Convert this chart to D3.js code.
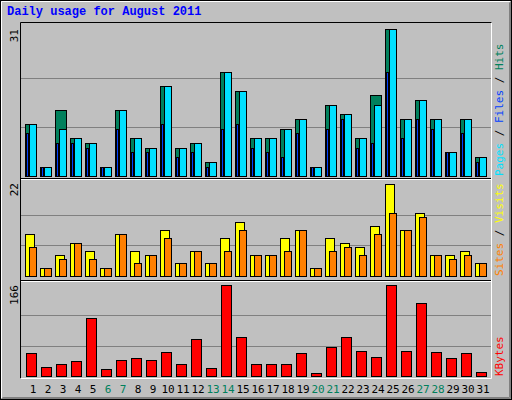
<!DOCTYPE html>
<html><head><meta charset="utf-8">
<script src="https://cdn.jsdelivr.net/npm/d3@7"></script>
<style>body{margin:0;background:#fff}</style>
</head><body><div id="chart"></div>
<script>
var days = d3.range(1, 32);
var weekend = [6, 7, 13, 14, 20, 21, 27, 28];
var hits  = [11,2,14,8,7,2,14,8,6,19,6,7,3,22,18,8,8,10,12,2,15,13,8,17,31,12,16,12,5,12,4];
var pages = [11,2,10,8,7,2,14,8,6,19,6,7,3,22,18,8,8,10,12,2,15,13,8,15,31,12,16,12,5,12,4];
var files = [9,2,7,7,6,2,10,5,5,11,4,5,2,10,11,6,5,4,9,2,10,12,6,7,22,8,12,10,5,9,3];
var visits = [10,2,5,8,6,2,10,6,5,11,3,6,3,9,13,5,5,9,11,2,9,8,7,12,22,11,15,5,5,6,3];
var sites  = [7,2,4,8,4,2,10,3,5,9,3,6,3,6,11,5,5,6,11,2,6,7,5,10,15,11,14,5,4,5,3];
var kbytes = [42,17,22,28,106,12,30,33,30,44,22,68,15,166,72,21,22,21,42,6,52,72,46,35,166,46,133,44,33,42,8];

var svg = d3.select("#chart").append("svg").attr("width", 512).attr("height", 400)
  .style("font-family", "DejaVu Sans Mono, monospace");

svg.append("rect").attr("x", 0).attr("y", 0).attr("width", 512).attr("height", 400).attr("fill", "#c0c0c0");
svg.append("path").attr("d", "M1.5,398.5V1.5H510.5").attr("stroke", "#fff").attr("fill", "none");
svg.append("path").attr("d", "M1.5,398.5H510.5V1.5").attr("stroke", "#808080").attr("fill", "none");
svg.append("path").attr("d", "M2.5,397.5H509.5V2.5").attr("stroke", "#808080").attr("fill", "none");
svg.append("rect").attr("x", 0.5).attr("y", 0.5).attr("width", 511).attr("height", 399).attr("fill", "none").attr("stroke", "#000");

svg.append("text").attr("x", 7).attr("y", 15).text("Daily usage for August 2011")
  .attr("fill", "#0000ff").attr("font-weight", "bold").attr("font-size", 12)
  .attr("font-family", "Liberation Mono, monospace");

var x = d3.scaleBand().domain(days).range([25, 490]).padding(0);

var panels = [
  { top: 24, bottom: 178, y: d3.scaleLinear().domain([0, 31]).range([176, 29]), max: 31 },
  { top: 178, bottom: 280, y: d3.scaleLinear().domain([0, 22]).range([276, 184]), max: 22 },
  { top: 280, bottom: 377, y: d3.scaleLinear().domain([0, 166]).range([376, 285]), max: 166 }
];

panels.forEach(function (p) {
  [1/3, 2/3].forEach(function (f) {
    var yy = Math.round(p.y(p.max * f)) + 0.5;
    svg.append("line").attr("x1", 21).attr("x2", 491).attr("y1", yy).attr("y2", yy).attr("stroke", "#808080");
  });
  svg.append("text").attr("transform", "translate(18," + (p.top + 5) + ") rotate(-90)")
    .attr("text-anchor", "end").attr("font-size", 11).text(p.max);
});

function bars(data, y, dx, w, color) {
  svg.append("g").selectAll("rect").data(data).enter().append("rect")
    .attr("x", function (d, i) { return x(days[i]) + dx + 0.5; })
    .attr("y", function (d) { return Math.round(y(d)) + 0.5; })
    .attr("width", w)
    .attr("height", function (d) { return Math.round(y(0)) - Math.round(y(d)); })
    .attr("fill", color).attr("stroke", "#000");
}

bars(hits, panels[0].y, 0, 11, "#00805c");
bars(pages, panels[0].y, 4, 7, "#00e0ff");
bars(files, panels[0].y, 1, 2, "#0040ff");
bars(visits, panels[1].y, 0, 9, "#ffff00");
bars(sites, panels[1].y, 4, 7, "#ff8000");
bars(kbytes, panels[2].y, 1, 10, "#ff0000");

// frame lines
svg.append("path").attr("d", "M20.5,378.5V22.5H492").attr("stroke", "#000").attr("fill", "none");
svg.append("path").attr("d", "M20.5,378.5H491.5V22.5").attr("stroke", "#fff").attr("fill", "none");
[178, 280].forEach(function (yy) {
  svg.append("line").attr("x1", 21).attr("x2", 491).attr("y1", yy + 0.5).attr("y2", yy + 0.5).attr("stroke", "#000");
  svg.append("line").attr("x1", 21).attr("x2", 491).attr("y1", yy + 1.5).attr("y2", yy + 1.5).attr("stroke", "#fff");
});

svg.append("g").selectAll("text").data(days).enter().append("text")
  .attr("x", function (d) { return x(d) + 8; }).attr("y", 393)
  .attr("text-anchor", "middle").attr("font-size", 11)
  .attr("fill", function (d) { return weekend.indexOf(d) >= 0 ? "#00805c" : "#000"; })
  .text(function (d) { return d; });

function legend(y0, parts) {
  var t = svg.append("text").attr("transform", "translate(503," + y0 + ") rotate(-90)")
    .attr("font-size", 11);
  parts.forEach(function (p) { t.append("tspan").attr("fill", p[1]).text(p[0]); });
}
legend(176, [["Pages", "#00e0ff"], [" / ", "#000"], ["Files", "#0040ff"], [" / ", "#000"], ["Hits", "#00805c"]]);
legend(276, [["Sites", "#ff8000"], [" / ", "#000"], ["Visits", "#ffff00"]]);
legend(376, [["KBytes", "#ff0000"]]);
</script></body></html>
